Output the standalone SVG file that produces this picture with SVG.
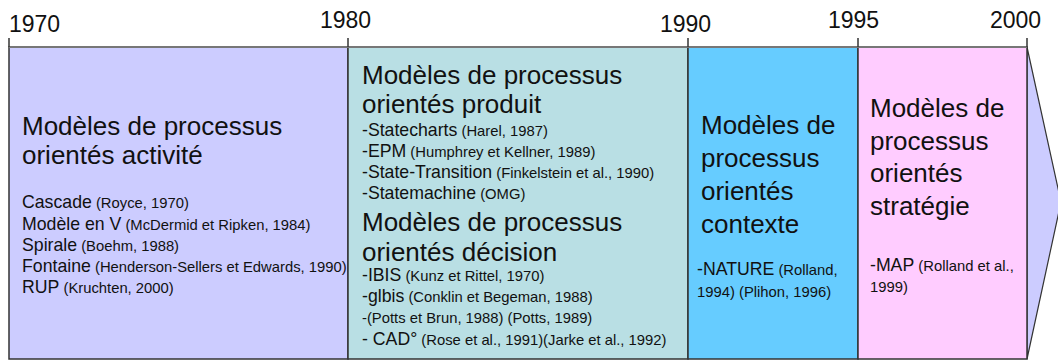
<svg xmlns="http://www.w3.org/2000/svg" width="1058" height="362" viewBox="0 0 1058 362">
<style>
text{font-family:"Liberation Sans",Arial,sans-serif;fill:#111}
.yr{font-size:23px}
.ti{font-size:26px}
.it{font-size:17.7px}
.sm{font-size:14.8px}
.box{stroke:#333;stroke-width:1.5}
.tick{stroke:#333;stroke-width:1.5}
</style>
<rect width="1058" height="362" fill="#fff"/>
<g id="arrow">
<polygon points="1027,47 1061,202 1027,359" fill="#CCCCFF" stroke="#333" stroke-width="1.2"/>
</g>
<g id="box-activite">
<rect class="box" x="9" y="47" width="339" height="312" fill="#CCCCFF"/>
<text class="ti" x="22" y="135">Modèles de processus</text>
<text class="ti" x="22" y="164">orientés activité</text>
<text x="22" y="208"><tspan class="it">Cascade</tspan><tspan class="sm"> (Royce, 1970)</tspan></text>
<text x="22" y="229.5"><tspan class="it">Modèle en V</tspan><tspan class="sm"> (McDermid et Ripken, 1984)</tspan></text>
<text x="22" y="250.5"><tspan class="it">Spirale</tspan><tspan class="sm"> (Boehm, 1988)</tspan></text>
<text x="22" y="271.5"><tspan class="it">Fontaine</tspan><tspan class="sm"> (Henderson-Sellers et Edwards, 1990)</tspan></text>
<text x="22" y="292.5"><tspan class="it">RUP</tspan><tspan class="sm"> (Kruchten, 2000)</tspan></text>
</g>
<g id="box-produit-decision">
<rect class="box" x="348" y="47" width="340" height="312" fill="#B9DFE4"/>
<text class="ti" x="362" y="84">Modèles de processus</text>
<text class="ti" x="362" y="113">orientés produit</text>
<text x="362" y="136"><tspan class="it">-Statecharts</tspan><tspan class="sm"> (Harel, 1987)</tspan></text>
<text x="362" y="157"><tspan class="it">-EPM</tspan><tspan class="sm"> (Humphrey et Kellner, 1989)</tspan></text>
<text x="362" y="178"><tspan class="it">-State-Transition</tspan><tspan class="sm"> (Finkelstein et al., 1990)</tspan></text>
<text x="362" y="199"><tspan class="it">-Statemachine</tspan><tspan class="sm"> (OMG)</tspan></text>
<text class="ti" x="362" y="231">Modèles de processus</text>
<text class="ti" x="362" y="261">orientés décision</text>
<text x="362" y="281"><tspan class="it">-IBIS</tspan><tspan class="sm"> (Kunz et Rittel, 1970)</tspan></text>
<text x="362" y="302"><tspan class="it">-glbis</tspan><tspan class="sm"> (Conklin et Begeman, 1988)</tspan></text>
<text x="362" y="323" class="sm">-(Potts et Brun, 1988) (Potts, 1989)</text>
<text x="362" y="345"><tspan class="it">- CAD°</tspan><tspan class="sm"> (Rose et al., 1991)(Jarke et al., 1992)</tspan></text>
</g>
<g id="box-contexte">
<rect class="box" x="688" y="47" width="170" height="312" fill="#66CCFF"/>
<text class="ti" x="701" y="134">Modèles de</text>
<text class="ti" x="701" y="167">processus</text>
<text class="ti" x="701" y="200">orientés</text>
<text class="ti" x="701" y="233">contexte</text>
<text x="697" y="275"><tspan class="it">-NATURE</tspan><tspan class="sm"> (Rolland,</tspan></text>
<text x="697" y="297" class="sm">1994) (Plihon, 1996)</text>
</g>
<g id="box-strategie">
<rect class="box" x="858" y="47" width="169" height="312" fill="#FFCCFF"/>
<text class="ti" x="870" y="117">Modèles de</text>
<text class="ti" x="870" y="149.5">processus</text>
<text class="ti" x="870" y="182">orientés</text>
<text class="ti" x="870" y="214.5">stratégie</text>
<text x="870" y="271"><tspan class="it">-MAP</tspan><tspan class="sm"> (Rolland et al.,</tspan></text>
<text x="870" y="292" class="sm">1999)</text>
</g>
<g id="timeline">
<line x1="9" y1="47" x2="1027" y2="47" stroke="#777" stroke-width="2"/>
<line class="tick" x1="9" y1="38" x2="9" y2="47"/>
<line class="tick" x1="348" y1="38" x2="348" y2="47"/>
<line class="tick" x1="688" y1="38" x2="688" y2="47"/>
<line class="tick" x1="858" y1="38" x2="858" y2="47"/>
<line class="tick" x1="1027" y1="38" x2="1027" y2="47"/>
<text class="yr" x="9" y="32">1970</text>
<text class="yr" x="320" y="28">1980</text>
<text class="yr" x="660" y="32">1990</text>
<text class="yr" x="828" y="28">1995</text>
<text class="yr" x="990" y="28">2000</text>
</g>
</svg>
